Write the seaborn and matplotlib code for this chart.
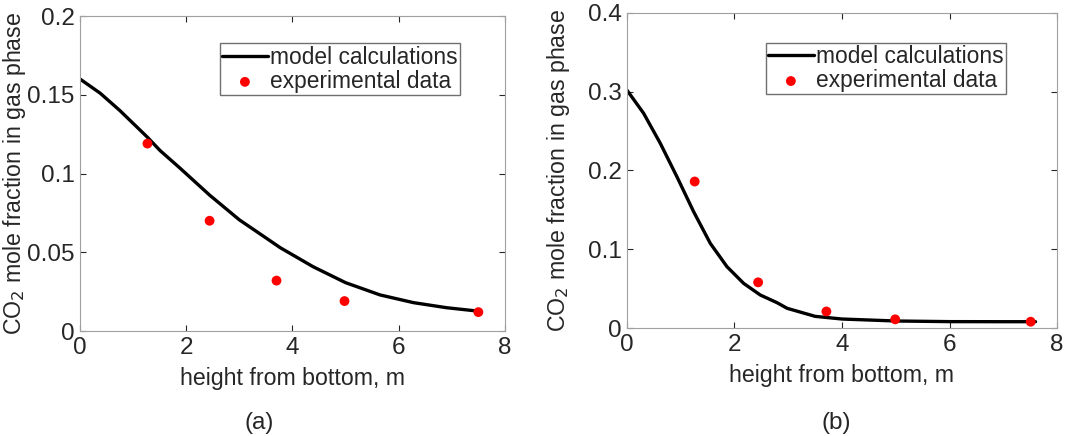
import numpy as np
import pandas as pd
import matplotlib
matplotlib.use("Agg")
import matplotlib.pyplot as plt
import seaborn as sns

# panel (a) - model curve
model_a_x = [0, 0.38, 0.75, 1.13, 1.27, 1.51, 1.88, 2.44, 3.0, 3.51, 3.77, 4.39, 5.0, 5.65, 6.28, 6.9, 7.5]
model_a_y = [0.160, 0.151, 0.140, 0.1276, 0.123, 0.1145, 0.1035, 0.0863, 0.0706, 0.0589, 0.0529,
             0.0408, 0.0307, 0.0229, 0.018, 0.0148, 0.0126]
exp_a_x = [1.27, 2.44, 3.70, 4.98, 7.50]
exp_a_y = [0.119, 0.070, 0.032, 0.019, 0.012]

# panel (b)
model_b_x = [0, 0.31, 0.62, 0.93, 1.24, 1.55, 1.86, 2.17, 2.48, 2.79, 2.98, 3.5, 4.0, 5.0, 6.0, 7.0, 7.6]
model_b_y = [0.302, 0.2726, 0.2345, 0.192, 0.1477, 0.1075, 0.0779, 0.0567, 0.0419, 0.0322, 0.025,
             0.0148, 0.0114, 0.0089, 0.0081, 0.0080, 0.0080]
exp_b_x = [1.26, 2.44, 3.71, 4.99, 7.51]
exp_b_y = [0.186, 0.058, 0.021, 0.011, 0.008]

sns.set_style("ticks")
plt.rcParams['font.family'] = ['Liberation Sans', 'DejaVu Sans']
plt.rcParams['text.color'] = '#262626'
plt.rcParams['axes.labelcolor'] = '#262626'
plt.rcParams['xtick.color'] = '#262626'
plt.rcParams['ytick.color'] = '#262626'

fig = plt.figure(figsize=(10.65, 4.36), dpi=100)
ax1 = fig.add_axes([0.0751, 0.2408, 0.399, 0.7225])
ax2 = fig.add_axes([0.5887, 0.2477, 0.4038, 0.7225])

panels = [
    (ax1, model_a_x, model_a_y, exp_a_x, exp_a_y, 0.2, [0, 0.05, 0.1, 0.15, 0.2], ['0', '0.05', '0.1', '0.15', '0.2'], (0.894, 0.913), -0.123),
    (ax2, model_b_x, model_b_y, exp_b_x, exp_b_y, 0.4, [0, 0.1, 0.2, 0.3, 0.4], ['0', '0.1', '0.2', '0.3', '0.4'], (0.881, 0.906), -0.128),
]

for ax, mx, my, ex, ey, ymax, yt, ytl, anchor, ylx in panels:
    model = pd.DataFrame({'x': mx, 'y': my})
    exp = pd.DataFrame({'x': ex, 'y': ey})
    sns.lineplot(data=model, x='x', y='y', ax=ax, color='black', lw=2.4, label='model calculations')
    sns.scatterplot(data=exp, x='x', y='y', ax=ax, color='red', s=50, edgecolor='none',
                    label='experimental data', zorder=3)
    ax.set_xlim(0, 8)
    ax.set_ylim(0, ymax)
    ax.set_xticks([0, 2, 4, 6, 8])
    ax.set_xticklabels(['0', '2', '4', '6', '8'])
    ax.set_yticks(yt)
    ax.set_yticklabels(ytl)
    ax.tick_params(direction='in', length=4, width=0.8, labelsize=17.5, top=True, right=True, pad=4)
    for sp in ax.spines.values():
        sp.set_visible(True)
        sp.set_color('#a0a0a0')
        sp.set_linewidth(0.8)
    ax.set_xlabel('height from bottom, m', fontsize=16.7, labelpad=6)
    ax.set_ylabel('CO$_2$ mole fraction in gas phase', fontsize=16.7)
    ax.yaxis.set_label_coords(ylx, 0.5)
    leg = ax.legend(loc='upper right', bbox_to_anchor=anchor, fontsize=16.4, frameon=True, fancybox=False,
                    framealpha=1, edgecolor='#707070', borderpad=0.1, handlelength=2.0,
                    handletextpad=0.1, labelspacing=0.05, borderaxespad=0)
    leg.get_frame().set_linewidth(1.0)

fig.text(0.243, 0.015, '(a)', fontsize=17.5, ha='center')
fig.text(0.785, 0.015, '(b)', fontsize=17.5, ha='center')

fig.savefig('out.png', dpi=100)
